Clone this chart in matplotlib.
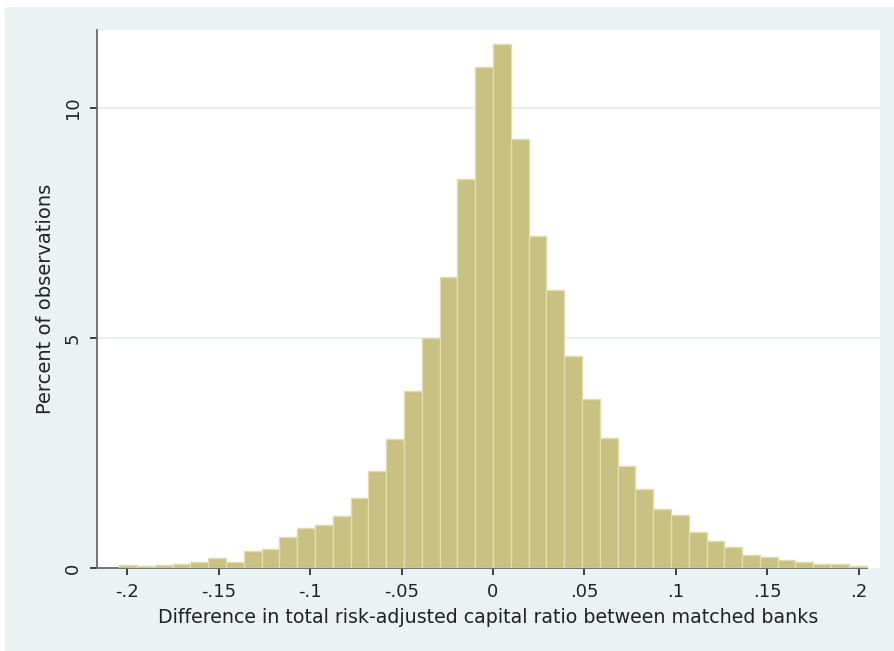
import matplotlib
matplotlib.use('Agg')
import matplotlib.pyplot as plt
from matplotlib.patches import Rectangle
import numpy as np

plt.rcParams['font.family'] = ['DejaVu Sans']

###  DATA  ###
# percent of observations per bin (42 equal bins from -0.2044 to 0.2044)
bin_lo = -0.2044
bin_hi = 0.2044
pct = [0.07, 0.04, 0.07, 0.08, 0.14, 0.21, 0.12, 0.37, 0.41, 0.67,
       0.87, 0.93, 1.14, 1.53, 2.12, 2.81, 3.84, 5.01, 6.32, 8.46,
       10.90, 11.40, 9.33, 7.22, 6.05, 4.60, 3.68, 2.82, 2.21, 1.71,
       1.29, 1.15, 0.79, 0.59, 0.45, 0.28, 0.24, 0.17, 0.14, 0.09,
       0.09, 0.05]
xticks = [-0.2, -0.15, -0.1, -0.05, 0, 0.05, 0.1, 0.15, 0.2]
xticklabels = ['-.2', '-.15', '-.1', '-.05', '0', '.05', '.1', '.15', '.2']
yticks = [0, 5, 10]

###  PLOT  ###
W, H = 894, 651
fig = plt.figure(figsize=(W / 100, H / 100), dpi=100)
fig.patch.set_facecolor('white')
# stata-like graph region
fig.add_artist(Rectangle((5 / W, 0), 1, (H - 7) / H, transform=fig.transFigure,
                         facecolor='#EAF2F3', edgecolor='none', zorder=-10))

ax = fig.add_axes([97 / W, (H - 568) / H, (880 - 97) / W, (568 - 30) / H])
ax.set_facecolor('white')

edges = np.linspace(bin_lo, bin_hi, len(pct) + 1)
ax.bar(edges[:-1], pct, width=np.diff(edges), align='edge',
       color='#C9C182', edgecolor='#E0DCAE', linewidth=1.0, zorder=3)

ax.set_xlim(-0.2166, 0.2117)
ax.set_ylim(0, 11.7)

for y in [5, 10]:
    ax.axhline(y, color='#E6F0F1', linewidth=1.5, zorder=1)

for s in ['top', 'right']:
    ax.spines[s].set_visible(False)
ax.spines['left'].set_color('#6a6a6a')
ax.spines['bottom'].set_color('#6a6a6a')
ax.spines['left'].set_linewidth(1.3)
ax.spines['bottom'].set_linewidth(1.3)
ax.spines['bottom'].set_bounds(-0.2166, 0.2045)

ax.set_xticks(xticks)
ax.set_xticklabels(xticklabels)
ax.set_yticks(yticks)
ax.set_yticklabels([str(v) for v in yticks], rotation=90, va='center')
ax.tick_params(axis='both', direction='out', length=5, width=1.3, color='#333333',
               labelsize=13, labelcolor='#222222', pad=6)

ax.set_xlabel('Difference in total risk-adjusted capital ratio between matched banks',
              fontsize=13.7, color='#222222', labelpad=5)
ax.set_ylabel('Percent of observations', fontsize=14, color='#222222', labelpad=6)

fig.savefig('out.png', dpi=100)
